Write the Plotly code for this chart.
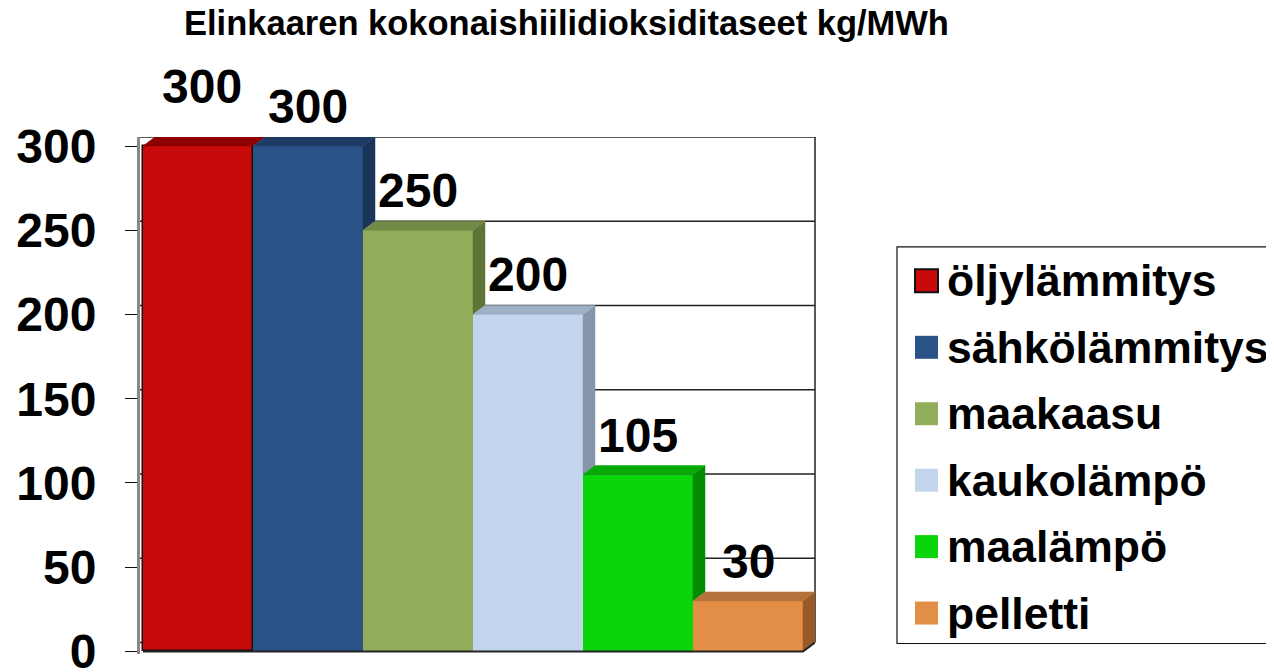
import plotly.graph_objects as go

# ---- data ----
categories = ["öljylämmitys", "sähkölämmitys", "maakaasu", "kaukolämpö", "maalämpö", "pelletti"]
values = [300, 300, 250, 200, 105, 30]
y_ticks = [0, 50, 100, 150, 200, 250, 300]
title_text = "Elinkaaren kokonaishiilidioksiditaseet kg/MWh"

front_colors = ["#C80A0A", "#2A5286", "#93AE5A", "#C2D5EC", "#0AD40A", "#E38E47"]
side_colors = ["#7E0606", "#1A3459", "#5E7436", "#8695AB", "#048C04", "#995A28"]
top_colors = ["#8E0000", "#1E3B64", "#728A45", "#9EAFC6", "#07AA07", "#B5723A"]

# ---- geometry ----
# the page body adds an 8px offset; screen coordinates are converted to figure coordinates
OFF = 8
W, H = 1274, 672
L, R, T, B = 140 - OFF, 815 - OFF, 137 - OFF, 654.5 - OFF
px_x = 110.0                       # pixels per category unit
xmin = -0.5 - 3 / px_x
xmax = 5.5 + 12 / px_x
ymin, ymax_extra = -1.5, 5.34
ymax = max(values) + ymax_extra
px_y = (B - T) / (ymax - ymin)
dx = 12 / px_x                      # depth offset (data units)
dy = 9 / px_y


def paper_x(sx):
    return (sx - OFF - L) / (R - L)


def paper_y(sy):
    return (B - (sy - OFF)) / (B - T)


FONT = "Liberation Sans, Arial, sans-serif"
xs = list(range(len(values)))

fig = go.Figure()

# front faces
fig.add_trace(go.Bar(
    x=xs, y=values, width=1.0,
    marker=dict(color=front_colors,
                line=dict(color="#111111", width=[1.5, 0, 0, 0, 0, 0])),
    showlegend=False, hoverinfo="skip"))

# side & top faces (pseudo 3D)
for i, v in enumerate(values):
    vn = values[i + 1] if i + 1 < len(values) else 0
    if v > vn:
        fig.add_trace(go.Scatter(
            x=[i + 0.5, i + 0.5 + dx, i + 0.5 + dx, i + 0.5, i + 0.5],
            y=[vn, vn + dy, v + dy, v, vn],
            fill="toself", fillcolor=side_colors[i], mode="lines",
            line=dict(width=0.5, color=side_colors[i]),
            showlegend=False, hoverinfo="skip"))
    fig.add_trace(go.Scatter(
        x=[i - 0.5, i - 0.5 + dx, i + 0.5 + dx, i + 0.5, i - 0.5],
        y=[v, v + dy, v + dy, v, v],
        fill="toself", fillcolor=top_colors[i], mode="lines",
        line=dict(width=0.5, color=top_colors[i]),
        showlegend=False, hoverinfo="skip"))

# floor front edge
fig.add_trace(go.Scatter(
    x=[xs[0] - 0.5, xs[-1] + 0.5, xs[-1] + 0.5 + dx],
    y=[0, 0, dy], mode="lines",
    line=dict(color="#222222", width=2),
    showlegend=False, hoverinfo="skip", cliponaxis=False))

shapes = []
# back-wall gridlines
for t in y_ticks:
    shapes.append(dict(type="line", xref="paper", yref="y",
                       x0=0, x1=1, y0=t + dy, y1=t + dy,
                       line=dict(color="#222222", width=1.3), layer="below"))
# right wall edge
shapes.append(dict(type="line", xref="paper", yref="y", x0=1, x1=1,
                   y0=dy, y1=max(y_ticks) + dy,
                   line=dict(color="#222222", width=1.5), layer="below"))

# data labels
annotations = []
for i, v in enumerate(values):
    extra = 20 if (i + 1 < len(values) and values[i + 1] == v) else 0
    annotations.append(dict(
        x=i + (0.04 if extra else 0), y=v, xref="x", yref="y",
        text=f"<b>{v}</b>", showarrow=False, yanchor="bottom",
        yshift=11 + extra, font=dict(family=FONT, size=48, color="black")))

# title
annotations.append(dict(
    x=paper_x(566), y=paper_y(23), xref="paper", yref="paper",
    text=f"<b>{title_text}</b>", showarrow=False,
    xanchor="center", yanchor="middle",
    font=dict(family=FONT, size=34.5, color="black")))

# manual legend
shapes.append(dict(type="rect", xref="paper", yref="paper",
                   x0=paper_x(897), x1=paper_x(1300),
                   y0=paper_y(644), y1=paper_y(247),
                   line=dict(color="#111111", width=1.2),
                   fillcolor="white", layer="above"))
row0, row_step = 281, 66.5
for i, name in enumerate(categories):
    cy = row0 + i * row_step
    shapes.append(dict(type="rect", xref="paper", yref="paper",
                       x0=paper_x(915), x1=paper_x(938),
                       y0=paper_y(cy + 11.5), y1=paper_y(cy - 11.5),
                       fillcolor=front_colors[i],
                       line=dict(color="#111111" if i == 0 else front_colors[i],
                                 width=2 if i == 0 else 0),
                       layer="above"))
    annotations.append(dict(
        x=paper_x(945), y=paper_y(cy), xref="paper", yref="paper",
        text=f"<b>{name}</b>", showarrow=False, xanchor="left",
        yanchor="middle", font=dict(family=FONT, size=44.5, color="black")))

fig.update_layout(
    width=W, height=H,
    margin=dict(l=L, r=W - R, t=T, b=H - B, pad=0, autoexpand=False),
    paper_bgcolor="white", plot_bgcolor="white",
    showlegend=False, bargap=0,
    shapes=shapes, annotations=annotations,
    xaxis=dict(range=[xmin, xmax], showgrid=False, zeroline=False,
               showticklabels=False, ticks="", showline=False, fixedrange=True,
               automargin=False),
    yaxis=dict(range=[ymin, ymax], tickvals=y_ticks,
               ticktext=[f"<b>{t}</b>" for t in y_ticks],
               showgrid=False, zeroline=False,
               ticks="outside", ticklen=12, tickwidth=1.3, tickcolor="#111111",
               ticklabelstandoff=19,
               showline=True, linecolor="#888888", linewidth=3,
               tickfont=dict(family=FONT, size=48, color="black"),
               fixedrange=True, automargin=False),
)

fig.write_html("out.html")
